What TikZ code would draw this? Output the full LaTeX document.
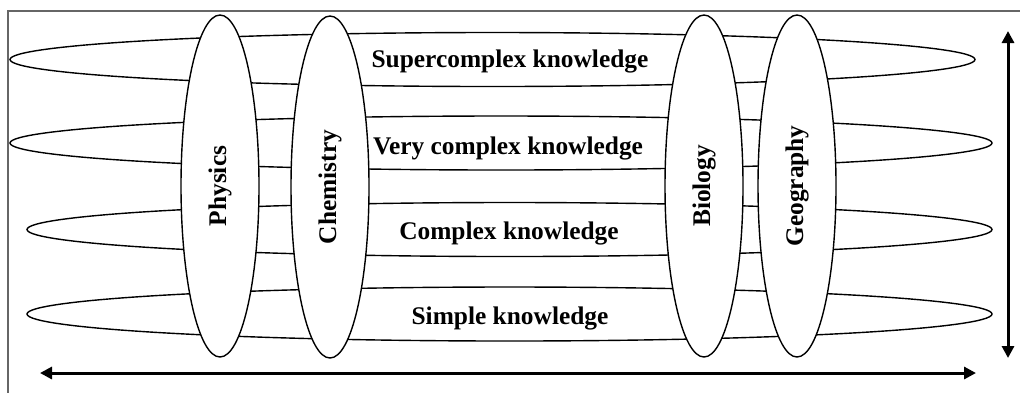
\documentclass[tikz,border=0pt]{standalone}
\usepackage{fontspec}
\setmainfont{Liberation Serif}
\usetikzlibrary{arrows.meta,shapes.geometric}

\begin{document}
\begin{tikzpicture}[x=0.5pt,y=-0.5pt]
\tikzset{layer/.style={draw, ellipse, fill=white, line width=0.7pt, minimum height=27pt, inner sep=0pt},
  subject/.style={draw, ellipse, fill=white, line width=0.7pt, rotate=90, minimum width=171pt, minimum height=39pt, inner sep=0pt, font=\bfseries\fontsize{12.7}{15}\selectfont},
  lbl/.style={inner sep=0pt, font=\bfseries\fontsize{12.7}{15}\selectfont},
  axis/.style={{Triangle[length=6pt,width=6pt]}-{Triangle[length=6pt,width=6pt]}, line width=1.5pt}}
\useasboundingbox (0,0) rectangle (1020,393);
\draw[black!60, line width=0.6pt] (1020,11) -- (8,11) -- (8,393);

% knowledge layers
\node[layer, minimum width=482.5pt] (superring) at (492.5,59.5) {};
\node[layer, minimum width=491pt] (veryring) at (501,143) {};
\node[layer, minimum width=482.5pt] (complexring) at (509.5,229.5) {};
\node[layer, minimum width=482.5pt] (simplering) at (509.5,314) {};

% subjects
\node[subject] (physics) at (220,186) {Physics};
\node[subject] (chemistry) at (330,187) {Chemistry};
\node[subject] (biology) at (704,186) {Biology};
\node[subject] (geography) at (797,186) {Geography};

\node[lbl] (super) at (510,61) {Supercomplex knowledge};
\node[lbl] (very) at (508,148) {Very complex knowledge};
\node[lbl] (complex) at (509,233) {Complex knowledge};
\node[lbl] (simple) at (510,318) {Simple knowledge};

% axes
\coordinate (hleft) at (40,373);
\coordinate (hright) at (976,373);
\coordinate (vtop) at (1008,31);
\coordinate (vbottom) at (1008,358);
\draw[axis] (hleft) -- (hright);
\draw[axis] (vtop) -- (vbottom);
\end{tikzpicture}
\end{document}
